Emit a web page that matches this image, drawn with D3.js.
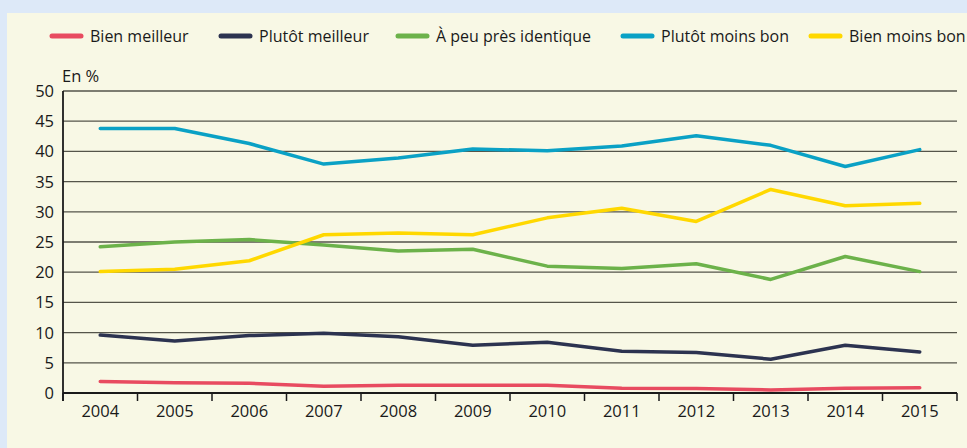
<!DOCTYPE html>
<html>
<head>
<meta charset="utf-8">
<script src="https://cdn.jsdelivr.net/npm/d3@7"></script>
<style>
  body { margin: 0; background: #dde9f8; }
  svg { display: block; font-family: "Open Sans", sans-serif; }
</style>
</head>
<body>
<svg width="967" height="448"></svg>
<script>
var years = ["2004","2005","2006","2007","2008","2009","2010","2011","2012","2013","2014","2015"];
var bienMeilleur = [1.9, 1.7, 1.6, 1.1, 1.3, 1.3, 1.3, 0.8, 0.75, 0.5, 0.8, 0.85];
var plutotMeilleur = [9.6, 8.6, 9.5, 9.9, 9.3, 7.9, 8.4, 6.9, 6.7, 5.6, 7.9, 6.8];
var peuPres = [24.2, 25.0, 25.4, 24.5, 23.5, 23.8, 21.0, 20.6, 21.4, 18.8, 22.6, 20.1];
var plutotMoins = [43.8, 43.8, 41.3, 37.9, 38.9, 40.4, 40.1, 40.9, 42.6, 41.0, 37.5, 40.3];
var bienMoins = [20.1, 20.5, 21.9, 26.2, 26.5, 26.2, 29.0, 30.6, 28.4, 33.7, 31.0, 31.4];
var seriesNames = ["Bien meilleur", "Plutôt meilleur", "À peu près identique", "Plutôt moins bon", "Bien moins bon"];
var seriesColors = ["#e84b60", "#2c3350", "#6cb24a", "#0aa1c5", "#ffd800"];
var yTicks = [0, 5, 10, 15, 20, 25, 30, 35, 40, 45, 50];

var series = [bienMeilleur, plutotMeilleur, peuPres, plutotMoins, bienMoins];

var svg = d3.select("svg");
// cream panel
svg.append("rect").attr("x", 7).attr("y", 13).attr("width", 960).attr("height", 435).attr("fill", "#f8f8e5");

var x = d3.scaleBand().domain(years).range([63, 957]);
var y = d3.scaleLinear().domain([0, 50]).range([393, 91]);

// grid
svg.append("g").selectAll("line").data(yTicks.slice(1)).enter().append("line")
  .attr("x1", 63).attr("x2", 957)
  .attr("y1", function(d) { return y(d); }).attr("y2", function(d) { return y(d); })
  .attr("stroke", "#55554a").attr("stroke-width", 1.3);

// y labels
svg.append("g").selectAll("text").data(yTicks).enter().append("text")
  .attr("x", 54).attr("y", function(d) { return y(d); })
  .attr("dy", "0.36em").attr("text-anchor", "end")
  .attr("font-size", 16.5).attr("fill", "#1a1a1a")
  .text(function(d) { return d; });

svg.append("text").attr("x", 62).attr("y", 82).attr("font-size", 16.5).attr("fill", "#1a1a1a").text("En %");

// x axis
var xAxis = d3.axisBottom(x).tickSize(0).tickPadding(12);
var gx = svg.append("g").attr("transform", "translate(0," + y(0) + ")").call(xAxis);
gx.select(".domain").remove();
gx.selectAll("text").attr("font-size", 16.5).attr("font-family", "Open Sans, sans-serif").attr("fill", "#1a1a1a");

var edges = years.map(function(d) { return x(d); }).concat([x.range()[1]]);
svg.append("g").selectAll("line").data(edges).enter().append("line")
  .attr("x1", function(d) { return d; }).attr("x2", function(d) { return d; })
  .attr("y1", y(0)).attr("y2", y(0) + 8)
  .attr("stroke", "#1a1a1a").attr("stroke-width", 1.5);
svg.append("line").attr("x1", 63).attr("x2", 957).attr("y1", y(0)).attr("y2", y(0))
  .attr("stroke", "#1a1a1a").attr("stroke-width", 1.8);
svg.append("line").attr("x1", 63).attr("x2", 63).attr("y1", y(50)).attr("y2", y(0) + 8)
  .attr("stroke", "#1a1a1a").attr("stroke-width", 1.8);

// lines
var line = d3.line()
  .x(function(d, i) { return x(years[i]) + x.bandwidth() / 2; })
  .y(function(d) { return y(d); });

svg.append("g").selectAll("path").data(series).enter().append("path")
  .attr("d", line)
  .attr("fill", "none")
  .attr("stroke", function(d, i) { return seriesColors[i]; })
  .attr("stroke-width", 3.5)
  .attr("stroke-linejoin", "round")
  .attr("stroke-linecap", "round");

// legend
var legendX = [50, 219, 396, 621, 809];
var lg = svg.append("g").selectAll("g").data(seriesNames).enter().append("g")
  .attr("transform", function(d, i) { return "translate(" + legendX[i] + ",36)"; });
lg.append("line").attr("x1", 2).attr("x2", 31).attr("y1", 0).attr("y2", 0)
  .attr("stroke", function(d, i) { return seriesColors[i]; })
  .attr("stroke-width", 5).attr("stroke-linecap", "round");
lg.append("text").attr("x", 40).attr("dy", "0.36em").attr("font-size", 16).attr("fill", "#1a1a1a")
  .text(function(d) { return d; });
</script>
</body>
</html>
